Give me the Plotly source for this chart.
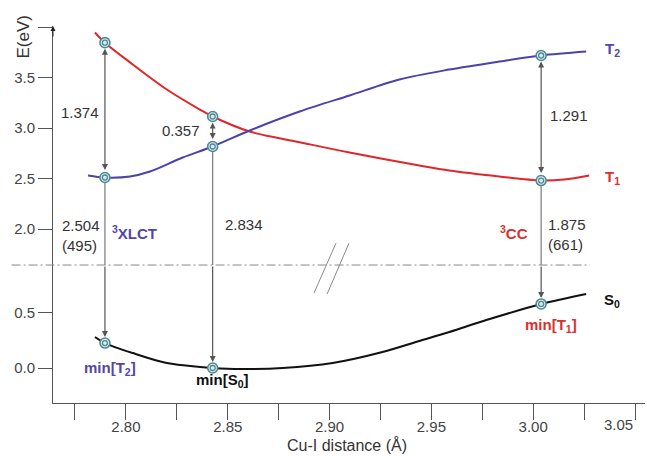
import plotly.graph_objects as go

# ---------------- data ----------------
T1_X = [2.7848, 2.7897, 2.8020, 2.8201, 2.8363, 2.8426, 2.8608, 2.8853, 2.9098, 2.9441, 2.9588, 2.9833, 3.0039, 3.0152, 3.0275]
T1_E = [3.946, 3.845, 3.650, 3.381, 3.183, 3.114, 2.965, 2.860, 2.757, 2.629, 2.579, 2.520, 2.480, 2.490, 2.530]

T2_X = [2.7814, 2.7897, 2.8020, 2.8118, 2.8279, 2.8426, 2.8608, 2.8853, 2.9098, 2.9343, 2.9588, 2.9833, 3.0039, 3.0260]
T2_E = [2.530, 2.510, 2.520, 2.569, 2.708, 2.817, 2.975, 3.163, 3.322, 3.480, 3.579, 3.658, 3.718, 3.757]

S0_X = [2.7848, 2.7897, 2.8034, 2.8201, 2.8363, 2.8426, 2.8559, 2.8770, 2.9015, 2.9260, 2.9441, 2.9588, 2.9770, 3.0039, 3.0260]
S0_E = [0.282, 0.227, 0.136, 0.045, 0.009, 0.000, -0.009, 0.000, 0.045, 0.145, 0.245, 0.327, 0.436, 0.582, 0.673]

MARK_X = [2.7897, 2.8426, 3.0039]
MARK_T1 = [3.845, 3.114, 2.480]
MARK_T2 = [2.510, 2.817, 3.718]
MARK_S0 = [0.227, 0.000, 0.582]
EMIS_FROM = ["T2", "T2", "T1"]

GAP_LABELS = ["1.374", "0.357", "1.291"]
GAP_POS = [(2.7775, 3.153), (2.8270, 2.975), (3.0176, 3.124)]
EMIS_LABELS = ["2.504<br>(495)", "2.834", "1.875<br>(661)"]
EMIS_POS = [(2.7780, 1.935), (2.8580, 2.040), (3.0167, 1.945)]

X_TICKS = [2.80, 2.85, 2.90, 2.95, 3.00, 3.05]
X_TICKTEXT = ["2.80", "2.85", "2.90", "2.95", "3.00", "3.05"]
Y1_TICKS = [2.0, 2.5, 3.0, 3.5, 4.0]
Y1_TICKTEXT = ["2.0", "2.5", "3.0", "3.5", ""]
Y2_TICKS = [0.0, 0.5]
Y2_TICKTEXT = ["0.0", "0.5"]

X_RANGE = [2.7642, 3.0549]
Y1_RANGE = [1.6436, 4.010]
Y2_RANGE = [-0.318, 0.936]

# ---------------- styles ----------------
RED = "#e0262b"
BLUE = "#4a43a8"
BLACK = "#111111"
LBLUE = "#5346a6"
LRED = "#d8302f"
GRAY = "#7a7a7a"
TEAL = "#4f8a94"
TXT = "#333333"
FONT = "Liberation Sans, Arial, sans-serif"
SPLIT = 0.366

fig = go.Figure()

fig.add_trace(go.Scatter(x=T1_X, y=T1_E, mode="lines", line=dict(color=RED, width=2, shape="spline", smoothing=0.9),
                         xaxis="x", yaxis="y", hoverinfo="skip"))
fig.add_trace(go.Scatter(x=T2_X, y=T2_E, mode="lines", line=dict(color=BLUE, width=2, shape="spline", smoothing=0.9),
                         xaxis="x", yaxis="y", hoverinfo="skip"))
fig.add_trace(go.Scatter(x=S0_X, y=S0_E, mode="lines", line=dict(color=BLACK, width=2, shape="spline", smoothing=0.9),
                         xaxis="x", yaxis="y2", hoverinfo="skip"))

# upper part of the emission arrows (from excited state down to the axis break)
vx, vy = [], []
for i, xm in enumerate(MARK_X):
    start = MARK_T2[i] if EMIS_FROM[i] == "T2" else MARK_T1[i]
    vx += [xm, xm, None]
    vy += [start, Y1_RANGE[0], None]
fig.add_trace(go.Scatter(x=vx, y=vy, mode="lines", line=dict(color=GRAY, width=1.2),
                         xaxis="x", yaxis="y", hoverinfo="skip"))

# markers
for xs, ys, ya in [(MARK_X + MARK_X, MARK_T1 + MARK_T2, "y"), (MARK_X, MARK_S0, "y2")]:
    fig.add_trace(go.Scatter(x=xs, y=ys, mode="markers", xaxis="x", yaxis=ya,
                             marker=dict(symbol="circle", size=10, color="#dcecee",
                                         line=dict(color=TEAL, width=1.6)), hoverinfo="skip"))
    fig.add_trace(go.Scatter(x=xs, y=ys, mode="markers", xaxis="x", yaxis=ya,
                             marker=dict(symbol="circle-open", size=5, color=TEAL,
                                         line=dict(width=1.3)), hoverinfo="skip"))

ann = []
# double-headed gap arrows T1 <-> T2
for i, xm in enumerate(MARK_X):
    top = max(MARK_T1[i], MARK_T2[i])
    bot = min(MARK_T1[i], MARK_T2[i])
    ann.append(dict(x=xm, y=top, ax=xm, ay=bot, xref="x", yref="y", axref="x", ayref="y",
                    showarrow=True, arrowhead=2, arrowside="end+start", arrowsize=1, arrowwidth=1.2,
                    arrowcolor="#555555", standoff=6, startstandoff=6, text=""))
# lower part of emission arrows (axis break down to S0)
for i, xm in enumerate(MARK_X):
    ann.append(dict(x=xm, y=MARK_S0[i], ax=xm, ay=Y2_RANGE[1], xref="x", yref="y2", axref="x", ayref="y2",
                    showarrow=True, arrowhead=2, arrowsize=1, arrowwidth=1.2, arrowcolor="#555555",
                    standoff=6, text=""))

for lab, (px, py) in zip(GAP_LABELS, GAP_POS):
    ann.append(dict(x=px, y=py, xref="x", yref="y", text=lab, showarrow=False,
                    font=dict(family=FONT, size=15, color=TXT)))
for lab, (px, py) in zip(EMIS_LABELS, EMIS_POS):
    ann.append(dict(x=px, y=py, xref="x", yref="y", text=lab, showarrow=False, align="left",
                    font=dict(family=FONT, size=15, color=TXT)))

bold = lambda t: "<b>" + t + "</b>"
ann += [
    dict(x=2.8044, y=1.965, xref="x", yref="y", text=bold("<sup>3</sup>XLCT"), showarrow=False,
         font=dict(family=FONT, size=15, color=LBLUE)),
    dict(x=2.9907, y=1.965, xref="x", yref="y", text=bold("<sup>3</sup>CC"), showarrow=False,
         font=dict(family=FONT, size=15, color=LRED)),
    dict(x=3.0343, y=3.777, xref="x", yref="y", text=bold("T<sub>2</sub>"), showarrow=False, xanchor="left",
         font=dict(family=FONT, size=15, color=LBLUE)),
    dict(x=3.0343, y=2.510, xref="x", yref="y", text=bold("T<sub>1</sub>"), showarrow=False, xanchor="left",
         font=dict(family=FONT, size=15, color=LRED)),
    dict(x=3.0338, y=0.618, xref="x", yref="y2", text=bold("S<sub>0</sub>"), showarrow=False, xanchor="left",
         font=dict(family=FONT, size=15, color=BLACK)),
    dict(x=2.7922, y=0.000, xref="x", yref="y2", text=bold("min[T<sub>2</sub>]"), showarrow=False,
         font=dict(family=FONT, size=15, color=LBLUE)),
    dict(x=2.8475, y=-0.118, xref="x", yref="y2", text=bold("min[S<sub>0</sub>]"), showarrow=False,
         font=dict(family=FONT, size=15, color=BLACK)),
    dict(x=3.0088, y=0.390, xref="x", yref="y2", text=bold("min[T<sub>1</sub>]"), showarrow=False,
         font=dict(family=FONT, size=15, color=LRED)),
    # y axis title and arrow
    dict(x=-0.049, y=0.972, xref="paper", yref="paper", text="E(eV)", textangle=-90, showarrow=False,
         xanchor="center", yanchor="middle", font=dict(family=FONT, size=17, color=TXT)),
    dict(x=0, y=1, xref="paper", yref="paper", ax=0, ay=12, showarrow=True, arrowhead=2,
         arrowsize=1, arrowwidth=1, arrowcolor="#222222", text=""),
    # x axis title
    dict(x=0.497, y=-0.111, xref="paper", yref="paper", text="Cu-I distance (Å)", showarrow=False,
         xanchor="center", yanchor="middle", font=dict(family=FONT, size=16, color=TXT)),
    # last x tick label, kept inside the picture
    dict(x=X_TICKS[-1], y=-0.058, xref="x", yref="paper", text=X_TICKTEXT[-1], showarrow=False,
         xanchor="right", yanchor="middle", font=dict(family=FONT, size=15, color="#444444")),
]

shapes = [
    # axis break dash-dot line
    dict(type="line", xref="paper", yref="paper", x0=-0.07, x1=0.907, y0=SPLIT, y1=SPLIT,
         line=dict(color="#8a8a8a", width=1, dash="9px,3px,2px,3px")),
    # break marks //
    dict(type="line", xref="paper", yref="paper", x0=0.441, y0=0.292, x1=0.478, y1=0.424,
         line=dict(color="#8a8a8a", width=1)),
    dict(type="line", xref="paper", yref="paper", x0=0.463, y0=0.289, x1=0.500, y1=0.424,
         line=dict(color="#8a8a8a", width=1)),
]

axis_font = dict(family=FONT, size=15, color="#444444")
fig.update_layout(
    width=647, height=456,
    margin=dict(l=53, r=2, t=26, b=53, autoexpand=False),
    paper_bgcolor="white", plot_bgcolor="white",
    showlegend=False,
    font=dict(family=FONT, color=TXT),
    xaxis=dict(domain=[0, 1], range=X_RANGE, anchor="y2", showline=True, linecolor="#555555", linewidth=1,
               showgrid=False, zeroline=False, ticks="outside", ticklen=10, tickcolor="#555555",
               tickvals=X_TICKS, ticktext=X_TICKTEXT[:-1] + [""], tickfont=axis_font, automargin=False,
               minor=dict(dtick=0.025, tick0=2.775, ticks="outside", ticklen=16, tickcolor="#555555", showgrid=False)),
    yaxis=dict(domain=[SPLIT, 1], range=Y1_RANGE, anchor="x", showline=True, linecolor="#555555", linewidth=1,
               showgrid=False, zeroline=False, ticks="outside", ticklen=14, tickcolor="#555555",
               tickvals=Y1_TICKS, ticktext=Y1_TICKTEXT, tickfont=axis_font, automargin=False),
    yaxis2=dict(domain=[0, SPLIT], range=Y2_RANGE, anchor="x", showline=True, linecolor="#555555", linewidth=1,
                showgrid=False, zeroline=False, ticks="outside", ticklen=14, tickcolor="#555555",
                tickvals=Y2_TICKS, ticktext=Y2_TICKTEXT, tickfont=axis_font, automargin=False),
    annotations=ann,
    shapes=shapes,
)

fig.write_html("out.html", config={"displayModeBar": False},
               post_script="document.body.style.margin='0px';")
